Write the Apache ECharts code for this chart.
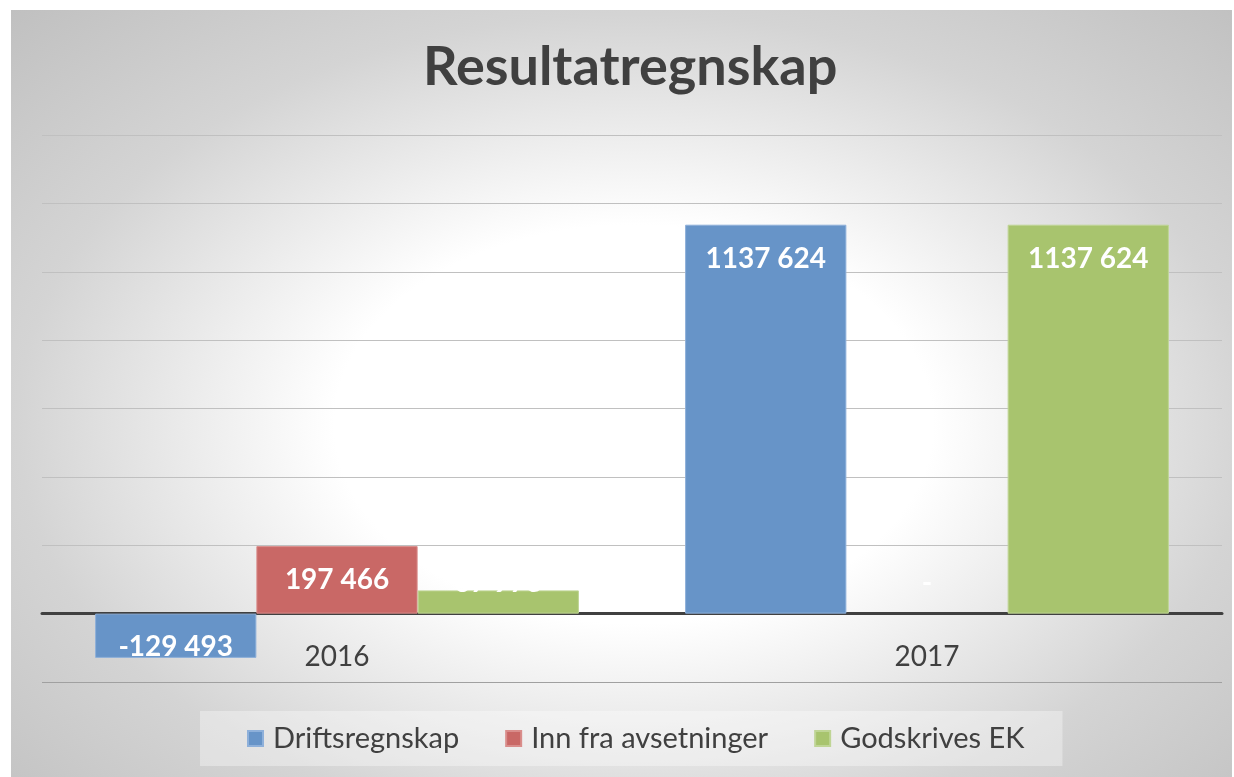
<!DOCTYPE html>
<html>
<head>
<meta charset="utf-8">
<title>Resultatregnskap</title>
<script src="https://cdn.jsdelivr.net/npm/echarts@6/dist/echarts.min.js"></script>
<style>
  body { margin: 0; background: #ffffff; }
  #main {
    position: absolute; left: 11px; top: 10px; width: 1221px; height: 767px;
    background: radial-gradient(ellipse at 51% 54%, #ffffff 0%, #ffffff 34%, #d4d4d4 70%, #c0c0c0 100%);
  }
</style>
</head>
<body>
<div id="main"></div>
<script>
// data
var categories = ['2016', '2017'];
var driftsregnskap = [-129493, 1137624];
var innFraAvsetninger = [197466, 0];
var godskrivesEK = [67973, 1137624];

var yTicks = { min: -200000, max: 1400000, interval: 200000 };

var FONT = 'Lato, "Open Sans", sans-serif';

// excel-format "# ##0", zero shown as "-"
function fmt(v) {
  if (v === 0) return '-';
  var a = Math.abs(v);
  var th = Math.floor(a / 1000);
  var rest = String(a % 1000);
  while (rest.length < 3) rest = '0' + rest;
  return (v < 0 ? '-' : '') + (th > 0 ? th + ' ' + rest : String(a % 1000));
}

function labelFor(v) {
  if (v < 0) return { position: 'insideBottom', distance: -3 };
  if (v < 100000) return { position: 'insideBottom', distance: 17 };
  return { position: 'insideTop', distance: 20 };
}

function makeData(arr) {
  return arr.map(function (v) {
    var d = { value: v, label: labelFor(v) };
    if (v === 0) d.itemStyle = { borderWidth: 0 };
    return d;
  });
}

var chart = echarts.init(document.getElementById('main'));

function barSeries(name, arr, color, border) {
  return {
    name: name,
    type: 'bar',
    data: makeData(arr),
    barGap: '0%',
    barCategoryGap: '18%',
    itemStyle: { color: color, borderColor: border, borderWidth: 1 },
    label: {
      show: true,
      color: '#ffffff',
      fontFamily: FONT,
      fontWeight: 'bold',
      fontSize: 28,
      formatter: function (p) { return fmt(p.value); }
    }
  };
}

var option = {
  textStyle: { fontFamily: FONT },
  title: {
    text: 'Resultatregnskap',
    left: 412,
    top: 31,
    padding: 0,
    textStyle: { fontFamily: FONT, fontWeight: 'bold', fontSize: 54, color: '#404040' }
  },
  legend: {
    left: 189,
    bottom: 11,
    icon: 'rect',
    itemWidth: 15,
    itemHeight: 15,
    itemGap: 46,
    padding: [13, 38, 13, 47],
    backgroundColor: 'rgba(255,255,255,0.35)',
    textStyle: { fontFamily: FONT, fontSize: 29, color: '#404040', padding: [0, 0, 0, 5] },
    data: ['Driftsregnskap', 'Inn fra avsetninger', 'Godskrives EK']
  },
  grid: { left: 31, right: 10, top: 125, bottom: 95 },
  xAxis: {
    type: 'category',
    data: categories,
    axisLine: { onZero: true, lineStyle: { color: '#404040', width: 3 } },
    axisTick: { show: false },
    axisLabel: { margin: -39, fontFamily: FONT, fontSize: 28, color: '#404040' }
  },
  yAxis: {
    type: 'value',
    min: yTicks.min,
    max: yTicks.max,
    interval: yTicks.interval,
    axisLabel: { show: false },
    axisLine: { show: false },
    axisTick: { show: false },
    splitLine: {
      lineStyle: {
        color: ['#a0a0a0', '#c0c0c0', '#c0c0c0', '#c0c0c0', '#c0c0c0', '#c0c0c0', '#c0c0c0', '#c0c0c0', '#c0c0c0'],
        width: 1
      }
    }
  },
  series: [
    barSeries('Driftsregnskap', driftsregnskap, '#6794c8', '#8eb0da'),
    barSeries('Inn fra avsetninger', innFraAvsetninger, '#c96866', '#d98d8b'),
    barSeries('Godskrives EK', godskrivesEK, '#a8c46e', '#bfd595')
  ]
};

chart.setOption(option);
</script>
</body>
</html>
